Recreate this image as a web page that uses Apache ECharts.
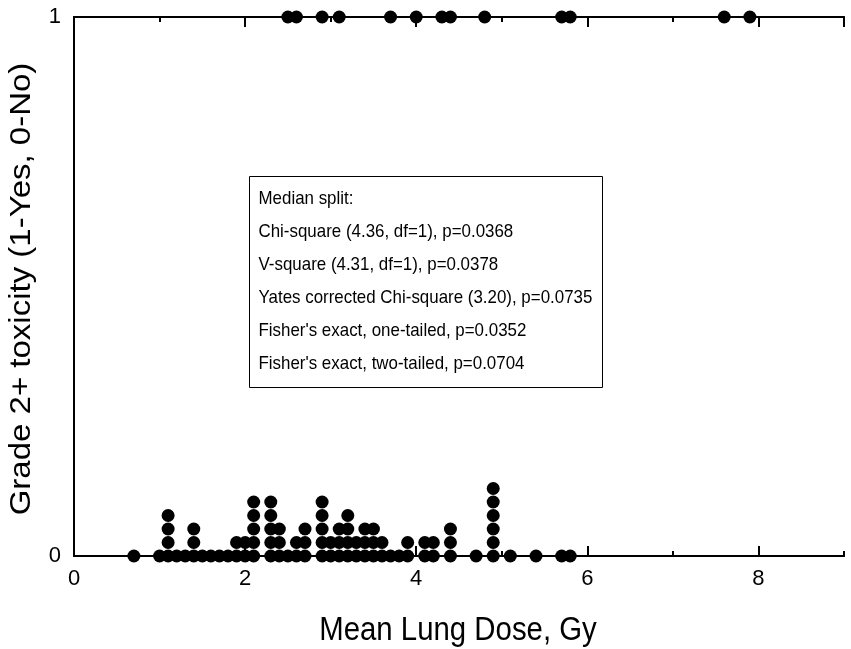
<!DOCTYPE html>
<html><head><meta charset="utf-8">
<script src="https://cdn.jsdelivr.net/npm/echarts@6/dist/echarts.min.js"></script>
<style>html,body{margin:0;padding:0;background:#fff}#c{width:851px;height:649px}</style>
</head><body><div id="c"></div>
<script>
// Toxic (grade 2+ = 1) doses
const toxX = [2.5, 2.6, 2.9, 3.1, 3.7, 4.0, 4.3, 4.4, 4.8, 5.7, 5.8, 7.6, 7.9];
// Non-toxic (0) doses and how many patients share each dose
const nonToxX =     [0.7, 1.0, 1.1, 1.2, 1.3, 1.4, 1.5, 1.6, 1.7, 1.8, 1.9, 2.0, 2.1, 2.3, 2.4, 2.5, 2.6, 2.7, 2.9, 3.0, 3.1, 3.2, 3.3, 3.4, 3.5, 3.6, 3.7, 3.8, 3.9, 4.1, 4.2, 4.4, 4.7, 4.9, 5.1, 5.4, 5.7, 5.8];
const nonToxCount = [1,   1,   4,   1,   1,   3,   1,   1,   1,   1,   2,   2,   5,   5,   3,   1,   2,   3,   5,   2,   3,   4,   2,   3,   3,   2,   1,   1,   2,   2,   2,   3,   1,   6,   1,   1,   1,   1];
const xTicks = [0, 2, 4, 6, 8];
const yTicks = [0, 1];
const xTitle = 'Mean Lung Dose, Gy';
const yTitle = 'Grade 2+ toxicity (1-Yes, 0-No)';
const statLines = [
  'Median split:',
  'Chi-square (4.36, df=1), p=0.0368',
  'V-square (4.31, df=1), p=0.0378',
  'Yates corrected Chi-square (3.20), p=0.0735',
  "Fisher's exact, one-tailed, p=0.0352",
  "Fisher's exact, two-tailed, p=0.0704"
];

const STACK = 13.5;
const SQUEEZE = 0.89; // reference text is horizontally condensed
const FONT = 'Liberation Sans, Arial, sans-serif';
const pts = [];
toxX.forEach(x => pts.push({ value: [x, 1] }));
nonToxX.forEach((x, i) => {
  for (let k = 0; k < nonToxCount[i]; k++) pts.push({ value: [x, 0], symbolOffset: [0, -k * STACK] });
});

const chart = echarts.init(document.getElementById('c'), null, { renderer: 'canvas' });
const lineStyle = { color: '#000', width: 2 };
const baseX = { type: 'value', min: 0, max: 9, splitLine: { show: false }, axisLine: { show: true, lineStyle }, };
chart.setOption({
  animation: false,
  backgroundColor: '#fff',
  grid: { left: 74, right: 7, top: 17, bottom: 93, containLabel: false },
  xAxis: [
    Object.assign({}, baseX, {
      position: 'bottom', interval: 2,
      axisTick: { inside: true, length: 10, lineStyle },
      axisLabel: { margin: 12, fontSize: 22, color: '#000', fontFamily: FONT, showMaxLabel: false,
        formatter: v => xTicks.includes(v) ? String(v) : '' }
    }),
    Object.assign({}, baseX, { position: 'bottom', interval: 1, axisTick: { inside: true, length: 5, lineStyle }, axisLabel: { show: false } }),
    Object.assign({}, baseX, { position: 'top', interval: 2, axisTick: { inside: true, length: 10, lineStyle }, axisLabel: { show: false } }),
    Object.assign({}, baseX, { position: 'top', interval: 1, axisTick: { inside: true, length: 5, lineStyle }, axisLabel: { show: false } })
  ],
  yAxis: [
    { type: 'value', min: 0, max: 1, interval: 1, position: 'left', splitLine: { show: false },
      axisLine: { show: true, lineStyle }, axisTick: { show: false },
      axisLabel: { margin: 13, fontSize: 22, color: '#000', fontFamily: FONT, formatter: v => yTicks.includes(v) ? String(v) : '' } },
    { type: 'value', min: 0, max: 1, interval: 1, position: 'right', splitLine: { show: false },
      axisLine: { show: true, lineStyle }, axisTick: { show: false }, axisLabel: { show: false } }
  ],
  series: [{
    type: 'scatter', xAxisIndex: 0, yAxisIndex: 0, clip: false,
    symbol: 'circle', symbolSize: 13, itemStyle: { color: '#000', opacity: 1 },
    data: pts
  }],
  graphic: [
    { type: 'text', x: 458, y: 631, scaleX: SQUEEZE,
      style: { text: xTitle, fill: '#000', font: '33px ' + FONT, align: 'center', verticalAlign: 'middle' } },
    { type: 'text', x: 22, y: 289, rotation: Math.PI / 2, scaleY: SQUEEZE,
      style: { text: yTitle, fill: '#000', font: '33px ' + FONT, align: 'center', verticalAlign: 'middle' } },
    {
      type: 'group', left: 249, top: 176,
      children: [
        { type: 'rect', shape: { x: 0, y: 0, width: 353, height: 211 }, style: { fill: '#fff', stroke: '#000', lineWidth: 1 } }
      ].concat(statLines.map((t, i) => ({
        type: 'text', x: 9, y: 22 + i * 33, scaleX: SQUEEZE,
        style: { text: t, fill: '#000', font: '19px ' + FONT, verticalAlign: 'middle' }
      })))
    }
  ]
});
</script></body></html>
